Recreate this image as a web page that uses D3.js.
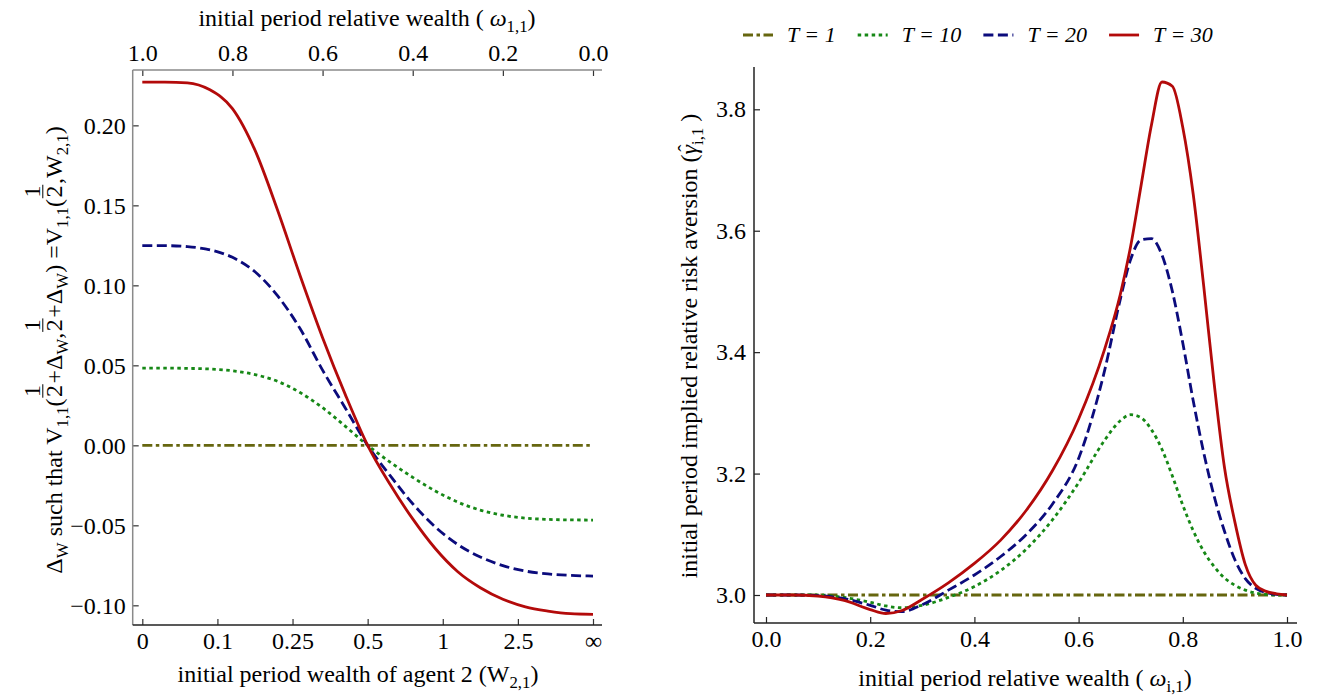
<!DOCTYPE html>
<html>
<head>
<meta charset="utf-8">
<script src="https://cdn.jsdelivr.net/npm/d3@7"></script>
<style>
  body { margin: 0; background: #fff; }
  svg, svg text { font-family: "Liberation Serif", "Times New Roman", Times, Tinos, "Nimbus Roman", "DejaVu Serif", serif; }
  svg text { white-space: pre; }
  .tick text { font-size: 24px; fill: #000; }
</style>
</head>
<body>
<div id="chart"></div>
<script>
// ---- data ----
// left panel: x is relative wealth of agent 1 (omega_1,1), decreasing to the right
const leftOmega = [1.0, 0.95, 0.9, 0.85, 0.8, 0.75, 0.7, 0.65, 0.6, 0.55, 0.5, 0.45, 0.4, 0.35, 0.3, 0.25, 0.2, 0.15, 0.1, 0.05, 0.0];
const leftT1  = [0, 0, 0, 0, 0, 0, 0, 0, 0, 0, 0, 0, 0, 0, 0, 0, 0, 0, 0, 0, 0];
const leftT10 = [0.0483, 0.0483, 0.0481, 0.0477, 0.0466, 0.0442, 0.0400, 0.0330, 0.0235, 0.0120, 0.0, -0.0105, -0.0200, -0.0285, -0.0355, -0.0405, -0.0437, -0.0455, -0.0463, -0.0466, -0.0467];
const leftT20 = [0.1248, 0.1248, 0.1242, 0.1222, 0.1175, 0.1085, 0.0935, 0.0730, 0.0470, 0.0235, 0.0, -0.0190, -0.0365, -0.0510, -0.0620, -0.0698, -0.0752, -0.0786, -0.0804, -0.0813, -0.0817];
const leftT30 = [0.2270, 0.2270, 0.2266, 0.2222, 0.2105, 0.1845, 0.1471, 0.1062, 0.0673, 0.0320, 0.0, -0.0245, -0.0460, -0.0645, -0.0790, -0.0890, -0.0962, -0.1010, -0.1036, -0.1052, -0.1056];

// right panel: implied relative risk aversion vs relative wealth
const rightOmega = [0, 0.05, 0.1, 0.15, 0.2, 0.23, 0.26, 0.3, 0.35, 0.4, 0.45, 0.5, 0.55, 0.6, 0.65, 0.68, 0.7, 0.72, 0.74, 0.76, 0.78, 0.8, 0.82, 0.84, 0.86, 0.88, 0.9, 0.92, 0.94, 0.96, 0.98, 1.0];
const rightT1  = [3, 3, 3, 3, 3, 3, 3, 3, 3, 3, 3, 3, 3, 3, 3, 3, 3, 3, 3, 3, 3, 3, 3, 3, 3, 3, 3, 3, 3, 3, 3, 3];
const rightT10 = [3.0, 3.0, 3.0, 2.996, 2.988, 2.982, 2.979, 2.983, 2.996, 3.014, 3.040, 3.076, 3.124, 3.185, 3.255, 3.287, 3.297, 3.292, 3.272, 3.240, 3.196, 3.148, 3.106, 3.072, 3.047, 3.028, 3.016, 3.008, 3.003, 3.001, 3.0, 3.0];
const rightT20 = [3.0, 3.0, 2.999, 2.994, 2.983, 2.975, 2.9725, 2.984, 3.008, 3.033, 3.063, 3.100, 3.150, 3.225, 3.370, 3.487, 3.553, 3.585, 3.587, 3.560, 3.500, 3.415, 3.320, 3.235, 3.163, 3.105, 3.058, 3.027, 3.011, 3.004, 3.001, 3.0];
const rightT30 = [3.0, 3.0, 2.998, 2.991, 2.976, 2.9695, 2.974, 2.993, 3.020, 3.052, 3.090, 3.140, 3.205, 3.290, 3.405, 3.495, 3.575, 3.675, 3.775, 3.845, 3.838, 3.770, 3.660, 3.510, 3.350, 3.210, 3.120, 3.050, 3.016, 3.006, 3.002, 3.0];

const seriesNames = ["T = 1", "T = 10", "T = 20", "T = 30"];

// tick labels
const topTicks = [1.0, 0.8, 0.6, 0.4, 0.2, 0.0];
const wealthTicks = [0, 0.1, 0.25, 0.5, 1, 2.5, Infinity];
const leftYTicks = [-0.10, -0.05, 0.00, 0.05, 0.10, 0.15, 0.20];
const rightXTicks = [0.0, 0.2, 0.4, 0.6, 0.8, 1.0];
const rightYTicks = [3.0, 3.2, 3.4, 3.6, 3.8];

// ---- styles ----
const FONT = "Liberation Serif, Times New Roman, Times, Tinos, Nimbus Roman, DejaVu Serif, serif";
const styles = [
  { color: "#66660f", dash: "10,3.5,3.5,3.5" },
  { color: "#168816", dash: "3.5,3.5" },
  { color: "#0b0b7c", dash: "10,4.5" },
  { color: "#b30a0a", dash: null }
];
const FS = 24;

const svg = d3.select("#chart").append("svg")
  .attr("width", 1317)
  .attr("height", 698)
  .attr("font-family", FONT);

// text with subscripts / italics in one <text>
function richText(sel, parts, size) {
  const t = sel.append("text").attr("font-size", size).attr("font-family", FONT);
  let shifted = false;
  parts.forEach(p => {
    const s = t.append("tspan").text(p.t);
    if (p.it) s.attr("font-style", "italic");
    if (p.sub) {
      s.attr("font-size", size * 0.7);
      if (!shifted) s.attr("dy", size * 0.25);
      shifted = true;
    } else if (shifted) {
      s.attr("dy", -size * 0.25);
      shifted = false;
    }
  });
  return t;
}

// label laid out piece by piece: plain, subscript, stacked fraction, accented letter
function mathLabel(g, pieces, size) {
  let x = 0;
  const txt = () => g.append("text").attr("font-family", FONT).attr("font-size", size);
  pieces.forEach(p => {
    if (p.frac) {
      const pad = 1.5;
      const num = txt().attr("y", -size * 0.92).text(p.frac[0]);
      const den = txt().attr("y", 0).text(p.frac[1]);
      const w = Math.max(num.node().getComputedTextLength(), den.node().getComputedTextLength());
      num.attr("x", x + pad + w / 2).attr("text-anchor", "middle");
      den.attr("x", x + pad + w / 2).attr("text-anchor", "middle");
      g.append("line")
        .attr("x1", x + pad * 0.5).attr("x2", x + w + pad * 1.5)
        .attr("y1", -size * 0.8).attr("y2", -size * 0.8)
        .attr("stroke", "#000").attr("stroke-width", 1);
      x += w + pad * 2;
    } else if (p.accent) {
      const t = txt().attr("x", x).attr("y", 0).attr("font-style", "italic").text(p.t);
      const w = t.node().getComputedTextLength();
      txt().attr("x", x + w / 2 + 1.5).attr("y", -size * 0.16).attr("text-anchor", "middle")
        .attr("font-size", size * 0.9).text(p.accent);
      x += w;
    } else {
      const t = txt()
        .attr("font-size", p.sub ? size * 0.7 : size)
        .attr("font-style", p.it ? "italic" : null)
        .attr("x", x)
        .attr("y", p.sub ? size * 0.25 : 0)
        .text(p.t);
      x += t.node().getComputedTextLength();
    }
  });
  return x;
}

function drawLines(g, xs, series, x, y) {
  const line = d3.line()
    .x(d => x(d[0]))
    .y(d => y(d[1]))
    .curve(d3.curveMonotoneX);
  series.forEach((vals, i) => {
    const pts = xs.map((o, j) => [o, vals[j]]).sort((a, b) => x(a[0]) - x(b[0]));
    g.append("path")
      .datum(pts)
      .attr("fill", "none")
      .attr("stroke", styles[i].color)
      .attr("stroke-width", 2.8)
      .attr("stroke-dasharray", styles[i].dash)
      .attr("d", line);
  });
}

function styleAxis(g, color) {
  g.select(".domain").remove();
  g.attr("font-family", FONT).attr("font-size", FS);
  g.selectAll(".tick line").attr("stroke", color).attr("stroke-width", 1.2);
  g.selectAll(".tick text").attr("font-family", FONT);
}

// ================= left panel =================
const L = { left: 132.7, right: 602, top: 70, bottom: 625 };
const lx = d3.scaleLinear().domain([1, 0]).range([142.3, 593]);
const ly = d3.scaleLinear().domain([-0.1123, 0.2346]).range([L.bottom, L.top]);
// agent 1 holds 1/2, so omega_1,1 = 0.5 / (0.5 + W_2,1)
const toOmega = w => (isFinite(w) ? 0.5 / (0.5 + w) : 0);

const left = svg.append("g");

left.append("g")
  .attr("transform", `translate(0,${L.top})`)
  .call(d3.axisTop(lx).tickValues(topTicks).tickFormat(d3.format(".1f"))
    .tickSizeInner(-6).tickSizeOuter(0).tickPadding(9))
  .call(g => styleAxis(g, "#333"));

left.append("g")
  .attr("transform", `translate(0,${L.bottom})`)
  .call(d3.axisBottom(lx).tickValues(wealthTicks.map(toOmega))
    .tickFormat((d, i) => (isFinite(wealthTicks[i]) ? String(wealthTicks[i]) : "\u221E"))
    .tickSizeInner(-6).tickSizeOuter(0).tickPadding(7))
  .call(g => styleAxis(g, "#333"));

left.append("g")
  .attr("transform", `translate(${L.left},0)`)
  .call(d3.axisLeft(ly).tickValues(leftYTicks).tickFormat(d3.format(".2f"))
    .tickSizeInner(-6).tickSizeOuter(0).tickPadding(7))
  .call(g => styleAxis(g, "#333"));

left.append("line").attr("x1", L.left).attr("x2", L.right).attr("y1", L.top).attr("y2", L.top)
  .attr("stroke", "#8a8a8a").attr("stroke-width", 1.5);
left.append("line").attr("x1", L.left).attr("x2", L.left).attr("y1", L.top).attr("y2", L.bottom)
  .attr("stroke", "#8a8a8a").attr("stroke-width", 1.5);
left.append("line").attr("x1", L.left).attr("x2", L.right).attr("y1", L.bottom).attr("y2", L.bottom)
  .attr("stroke", "#222").attr("stroke-width", 1.5);

drawLines(left, leftOmega, [leftT1, leftT10, leftT20, leftT30], lx, ly);

richText(left.append("g").attr("transform", "translate(367,26)"),
  [{ t: "initial period relative wealth ( " }, { t: "\u03C9", it: true }, { t: "1,1", sub: true }, { t: ")" }], FS)
  .attr("text-anchor", "middle");

richText(left.append("g").attr("transform", "translate(358,682)"),
  [{ t: "initial period wealth of agent 2 (W" }, { t: "2,1", sub: true }, { t: ")" }], FS)
  .attr("text-anchor", "middle");

// rotated y label with fractions
const ylab = left.append("g").attr("transform", "translate(62,350) rotate(-90)");
const ylabInner = ylab.append("g");
const ylabW = mathLabel(ylabInner, [
  { t: "\u0394" }, { t: "W", sub: true },
  { t: " such that V" }, { t: "1,1", sub: true }, { t: "(" },
  { frac: ["1", "2"] }, { t: "+\u0394" }, { t: "W", sub: true }, { t: "," },
  { frac: ["1", "2"] }, { t: "+\u0394" }, { t: "W", sub: true }, { t: ") =V" },
  { t: "1,1", sub: true }, { t: "(" }, { frac: ["1", "2"] }, { t: ",W" },
  { t: "2,1", sub: true }, { t: ")" }
], FS);
ylabInner.attr("transform", `translate(${-ylabW / 2},0)`);

// ================= right panel =================
const R = { left: 754, right: 1297, top: 67, bottom: 623 };
const rx = d3.scaleLinear().domain([0, 1]).range([766, 1287]);
const ry = d3.scaleLinear().domain([3.0, 3.8]).range([595, 109.3]);

const right = svg.append("g");

right.append("g")
  .attr("transform", `translate(0,${R.bottom})`)
  .call(d3.axisBottom(rx).tickValues(rightXTicks).tickFormat(d3.format(".1f"))
    .tickSizeInner(-6).tickSizeOuter(0).tickPadding(7))
  .call(g => styleAxis(g, "#222"));

right.append("g")
  .attr("transform", `translate(${R.left},0)`)
  .call(d3.axisLeft(ry).tickValues(rightYTicks).tickFormat(d3.format(".1f"))
    .tickSizeInner(-6).tickSizeOuter(0).tickPadding(8))
  .call(g => styleAxis(g, "#222"));

right.append("line").attr("x1", R.left).attr("x2", R.right).attr("y1", R.bottom).attr("y2", R.bottom)
  .attr("stroke", "#222").attr("stroke-width", 1.5);
right.append("line").attr("x1", R.left).attr("x2", R.left).attr("y1", R.top).attr("y2", R.bottom)
  .attr("stroke", "#222").attr("stroke-width", 1.5);

drawLines(right, rightOmega, [rightT1, rightT10, rightT20, rightT30], rx, ry);

richText(right.append("g").attr("transform", "translate(1025,686)"),
  [{ t: "initial period relative wealth ( " }, { t: "\u03C9", it: true }, { t: "i,1", sub: true }, { t: ")" }], FS)
  .attr("text-anchor", "middle");

// rotated y label with a hatted gamma
const rlab = right.append("g").attr("transform", "translate(697,346) rotate(-90)");
const rlabInner = rlab.append("g");
const rlabW = mathLabel(rlabInner, [
  { t: "initial period implied relative risk aversion (" },
  { t: "\u03B3", accent: "\u02C6" }, { t: "i,1", sub: true }, { t: " )" }
], FS);
rlabInner.attr("transform", `translate(${-rlabW / 2},0)`);

// legend
const legend = svg.append("g").attr("transform", "translate(743,35)");
let lxPos = 0;
seriesNames.forEach((name, i) => {
  legend.append("line")
    .attr("x1", lxPos).attr("x2", lxPos + 30)
    .attr("y1", 0).attr("y2", 0)
    .attr("stroke", styles[i].color)
    .attr("stroke-width", 2.8)
    .attr("stroke-dasharray", styles[i].dash);
  const t = legend.append("text")
    .attr("x", lxPos + 44)
    .attr("y", 7)
    .attr("font-family", FONT)
    .attr("font-size", 22)
    .attr("font-style", "italic")
    .text(name);
  lxPos += 44 + t.node().getComputedTextLength() + 22;
});
</script>
</body>
</html>
